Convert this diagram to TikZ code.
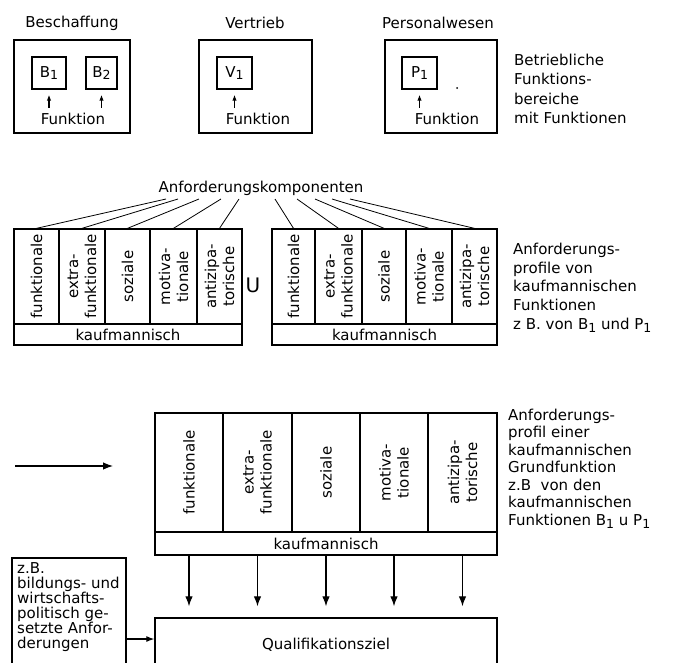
\documentclass[tikz,border=0pt]{standalone}
\usepackage{fontspec}
\setmainfont{DejaVu Sans}
\usetikzlibrary{arrows.meta}
\newcommand\idx[1]{\raisebox{-0.35ex}{\fontsize{12.5}{12.5}\selectfont #1}}
\tikzset{
  txt/.style={inner sep=0pt, font={\fontsize{15}{18}\selectfont}},
  frame/.style={draw, line width=1.3pt, inner sep=0pt},
  fbox/.style={frame, txt, minimum height=32pt},
  col/.style={frame, minimum height=95pt},
  gcol/.style={frame, minimum height=119pt},
  coltxt/.style={txt, rotate=90, align=center},
  note/.style={txt, align=left, anchor=west},
  small arrow/.style={-{Latex[length=6pt,width=4.5pt]}, line width=1.2pt},
  big arrow/.style={-{Latex[length=10pt,width=7.5pt]}, line width=1.2pt},
  spoke/.style={line width=0.8pt},
}
\begin{document}
\begin{tikzpicture}[x=1pt,y=-1pt]
\useasboundingbox (0,0) rectangle (675,662);
\clip (0,0) rectangle (675,662);

% Funktionsbereiche
\node[txt] (beschlab) at (72,23) {Beschaffung};
\node[txt] (vertrlab) at (255,23) {Vertrieb};
\node[txt] (perslab) at (438,23) {Personalwesen};
\node[frame, minimum width=116pt, minimum height=93pt] (besch) at (72,86.5) {};
\node[frame, minimum width=113pt, minimum height=93pt] (vertr) at (255.5,86.5) {};
\node[frame, minimum width=112pt, minimum height=93pt] (pers) at (441,86.5) {};
\node[fbox, minimum width=34pt] (b1) at (49,73) {B\idx{1}};
\node[fbox, minimum width=31pt] (b2) at (101.5,73) {B\idx{2}};
\node[fbox, minimum width=35pt] (v1) at (234.5,73) {V\idx{1}};
\node[fbox, minimum width=35pt] (p1) at (419.5,73) {P\idx{1}};
\node[txt] (fb) at (73,119) {Funktion};
\node[txt] (fv) at (258,119) {Funktion};
\node[txt] (fp) at (447,119) {Funktion};
\draw[small arrow, shorten <=5pt, shorten >=5pt] (b1 |- fb.north) -- (b1.south);
\draw[small arrow, shorten <=5pt, shorten >=5pt] (b2 |- fb.north) -- (b2.south);
\draw[small arrow, shorten <=5pt, shorten >=5pt] (v1 |- fv.north) -- (v1.south);
\draw[small arrow, shorten <=5pt, shorten >=5pt] (p1 |- fp.north) -- (p1.south);
\fill (457,88) circle (1pt);
\node[note, font={\fontsize{15}{19.3}\selectfont}] (bereiche) at (514,89)
  {Betriebliche\\Funktions-\\bereiche\\mit Funktionen};

% Anforderungsprofile
\node[txt] (komp) at (261,188) {Anforderungskomponenten};
\node[col, minimum width=45pt, label={[coltxt]center:funktionale}] (l1) at (36.5,276.5) {};
\node[col, minimum width=46pt, label={[coltxt]center:{extra-\\funktionale}}] (l2) at (82,276.5) {};
\node[col, minimum width=45pt, label={[coltxt]center:soziale}] (l3) at (127.5,276.5) {};
\node[col, minimum width=47pt, label={[coltxt]center:{motiva-\\tionale}}] (l4) at (173.5,276.5) {};
\node[col, minimum width=45pt, label={[coltxt]center:{antizipa-\\torische}}] (l5) at (219.5,276.5) {};
\node[frame, txt, minimum width=228pt, minimum height=21pt] (lrow) at (128,334.5) {kaufmannisch};
\node[txt, font={\fontsize{20}{20}\selectfont}] (vereint) at (253,285) {U};
\node[col, minimum width=43pt, label={[coltxt]center:funktionale}] (r1) at (293.5,276.5) {};
\node[col, minimum width=47pt, label={[coltxt]center:{extra-\\funktionale}}] (r2) at (338.5,276.5) {};
\node[col, minimum width=44pt, label={[coltxt]center:soziale}] (r3) at (384,276.5) {};
\node[col, minimum width=46pt, label={[coltxt]center:{motiva-\\tionale}}] (r4) at (429,276.5) {};
\node[col, minimum width=45pt, label={[coltxt]center:{antizipa-\\torische}}] (r5) at (474.5,276.5) {};
\node[frame, txt, minimum width=225pt, minimum height=21pt] (rrow) at (384.5,334.5) {kaufmannisch};
\coordinate (k1) at (166,199);
\coordinate (k2) at (178,199);
\coordinate (k3) at (199,199);
\coordinate (k4) at (221,199);
\coordinate (k5) at (239,199);
\coordinate (k6) at (275,199);
\coordinate (k7) at (297,199);
\coordinate (k8) at (315,199);
\coordinate (k9) at (332,199);
\coordinate (k10) at (350,199);
\draw[spoke] (k1) -- (l1.north);
\draw[spoke] (k2) -- (l2.north);
\draw[spoke] (k3) -- (l3.north);
\draw[spoke] (k4) -- (l4.north);
\draw[spoke] (k5) -- (l5.north);
\draw[spoke] (k6) -- (r1.north);
\draw[spoke] (k7) -- (r2.north);
\draw[spoke] (k8) -- (r3.north);
\draw[spoke] (k9) -- (r4.north);
\draw[spoke] (k10) -- (r5.north);
\node[note, font={\fontsize{15}{18.7}\selectfont}] (profile) at (513,287.5)
  {Anforderungs-\\profile von\\kaufmannischen\\Funktionen\\z B. von B\idx{1} und P\idx{1}};

% Grundfunktion
\coordinate (zu) at (15,466);
\coordinate (zuende) at (113,466);
\draw[big arrow] (zu) -- (zuende);
\node[gcol, minimum width=68pt, label={[coltxt]center:funktionale}] (g1) at (189,472.5) {};
\node[gcol, minimum width=69pt, label={[coltxt]center:{extra-\\funktionale}}] (g2) at (257.5,472.5) {};
\node[gcol, minimum width=68pt, label={[coltxt]center:soziale}] (g3) at (326,472.5) {};
\node[gcol, minimum width=68pt, label={[coltxt]center:{motiva-\\tionale}}] (g4) at (394,472.5) {};
\node[gcol, minimum width=69pt, label={[coltxt]center:{antizipa-\\torische}}] (g5) at (462.5,472.5) {};
\node[frame, txt, minimum width=342pt, minimum height=23pt] (grow) at (326,543.5) {kaufmannisch};
\node[note, font={\fontsize{15}{17.5}\selectfont}] (grund) at (508,468.5)
  {Anforderungs-\\profil einer\\kaufmannischen\\Grundfunktion\\z.B\ \ von den\\kaufmannischen\\Funktionen B\idx{1} u P\idx{1}};

% Qualifikationsziel
\node[frame, txt, minimum width=342pt, minimum height=54pt] (qz) at (326,645) {Qualifikationsziel};
\draw[big arrow, shorten >=11pt] (g1 |- grow.south) -- (g1 |- qz.north);
\draw[big arrow, shorten >=11pt] (g2 |- grow.south) -- (g2 |- qz.north);
\draw[big arrow, shorten >=11pt] (g3 |- grow.south) -- (g3 |- qz.north);
\draw[big arrow, shorten >=11pt] (g4 |- grow.south) -- (g4 |- qz.north);
\draw[big arrow, shorten >=11pt] (g5 |- grow.south) -- (g5 |- qz.north);
\node[frame, minimum width=114pt, minimum height=122pt] (zb) at (69,619) {};
\node[txt, align=left, anchor=north west, font={\fontsize{15}{15}\selectfont}] (zbtext) at (17,562)
  {z.B.\\bildungs- und\\wirtschafts-\\politisch ge-\\setzte Anfor-\\derungen};
\draw[-{Latex[length=8pt,width=6pt]}, line width=1.2pt] (zb.east |- 0,639) -- (qz.west |- 0,639);
\end{tikzpicture}
\end{document}
